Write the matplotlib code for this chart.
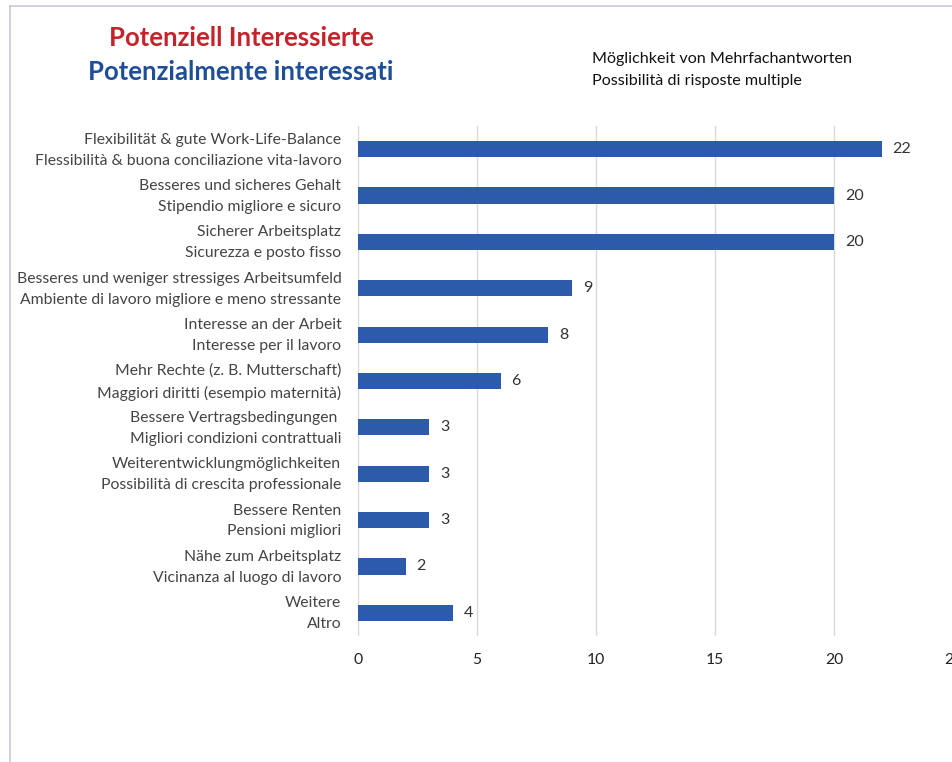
import matplotlib
matplotlib.use("Agg")
import matplotlib.pyplot as plt
from matplotlib.lines import Line2D
from matplotlib.transforms import ScaledTranslation

categories = [
    "Flexibilität & gute Work-Life-Balance\nFlessibilità & buona conciliazione vita-lavoro",
    "Besseres und sicheres Gehalt\nStipendio migliore e sicuro",
    "Sicherer Arbeitsplatz\nSicurezza e posto fisso",
    "Besseres und weniger stressiges Arbeitsumfeld\nAmbiente di lavoro migliore e meno stressante",
    "Interesse an der Arbeit\nInteresse per il lavoro",
    "Mehr Rechte (z. B. Mutterschaft)\nMaggiori diritti (esempio maternità)",
    "Bessere Vertragsbedingungen \nMigliori condizioni contrattuali",
    "Weiterentwicklungmöglichkeiten\nPossibilità di crescita professionale",
    "Bessere Renten\nPensioni migliori",
    "Nähe zum Arbeitsplatz\nVicinanza al luogo di lavoro",
    "Weitere\nAltro",
]
values = [22, 20, 20, 9, 8, 6, 3, 3, 3, 2, 4]
xticks = [0, 5, 10, 15, 20, 25]

title_de = "Potenziell Interessierte"
title_it = "Potenzialmente interessati"
note = "Möglichkeit von Mehrfachantworten\nPossibilità di risposte multiple"

plt.rcParams['font.family'] = ['Lato', 'DejaVu Sans']

W, H = 953, 762
fig = plt.figure(figsize=(W/100, H/100), dpi=100)
ax = fig.add_axes([358/W, 1-636/H, (953-358)/W, (636-126)/H])

n = len(categories)
ypos = list(range(n))
ax.barh(ypos, values, height=0.35, color="#2B5BAA", zorder=3)
ax.set_ylim(n-0.5, -0.5)
ax.set_xlim(0, 25)
ax.set_xticks(xticks)
ax.set_xticklabels([str(t) for t in xticks], fontsize=11.3, color="#222222")
ax.set_yticks(ypos)
ax.set_yticklabels(categories, fontsize=11.3, color="#444444", linespacing=1.62, ha="right")
ax.tick_params(axis='both', length=0)
ax.tick_params(axis='x', pad=12)
ax.tick_params(axis='y', pad=12)
ax.grid(axis='x', color="#d9d9d9", linewidth=1.0, zorder=0)
for s in ax.spines.values():
    s.set_visible(False)
shift = ScaledTranslation(0, 4/100, fig.dpi_scale_trans)
for lbl in ax.get_yticklabels():
    lbl.set_transform(lbl.get_transform() + shift)

for y, v in zip(ypos, values):
    ax.text(v + 0.45, y, str(v), va='center', ha='left', fontsize=11.5, color="#333333")

fig.text(241/W, 1-38/H, title_de, ha='center', va='center', fontsize=18.5,
         fontweight='bold', color="#C52229")
fig.text(241/W, 1-72/H, title_it, ha='center', va='center', fontsize=18.5,
         fontweight='bold', color="#1F4E99")
fig.text(592/W, 1-70/H, note, ha='left', va='center', fontsize=11.6,
         color="#111111", linespacing=1.65)

fig.add_artist(Line2D([10/W, 1], [1-6/H, 1-6/H], color="#c9c9dd", linewidth=1.2))
fig.add_artist(Line2D([10/W, 10/W], [0, 1-6/H], color="#c9c9dd", linewidth=1.2))

fig.savefig("out.png", dpi=100)
